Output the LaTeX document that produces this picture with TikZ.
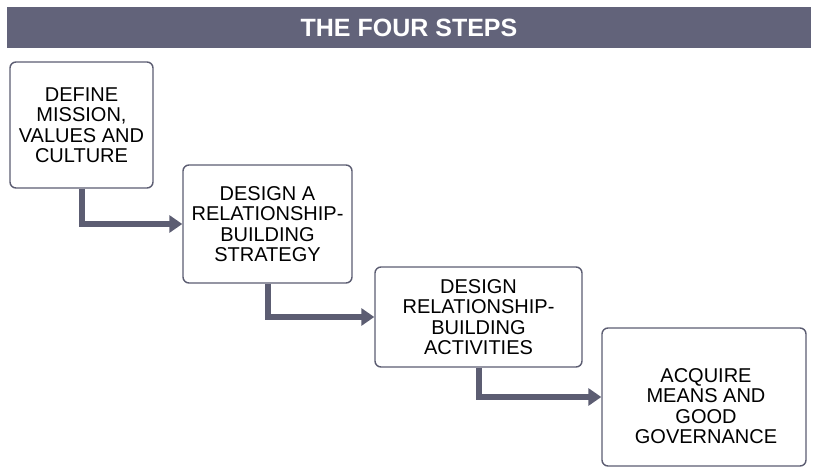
\documentclass[tikz,border=0pt]{standalone}
\usepackage{fontspec}
\setmainfont{Liberation Sans}
\usetikzlibrary{positioning}
\usetikzlibrary{arrows.meta}
\definecolor{slate}{RGB}{98,99,122}
\definecolor{linkgray}{RGB}{92,93,114}
\tikzset{
	every node/.style={align=center},
	stepbox/.style={draw=linkgray, line width=1.4pt, rounded corners=6pt, fill=white, inner sep=0pt, font=\fontsize{20}{20.5}\selectfont},
	steptext/.style={inner sep=0pt, font=\fontsize{20}{20.5}\selectfont},
	steplink/.style={draw=linkgray, line width=6pt, -{Triangle[length=13pt,width=17pt]}},
}

\begin{document}
\begin{tikzpicture}[x=1pt,y=-1pt]
			\useasboundingbox (0,0) rectangle (813,468);
			
			% header bar.....................
			\node [fill=slate, minimum width=804pt, minimum height=41pt, inner sep=0pt, text=white, font=\bfseries\fontsize{25}{25}\selectfont] (title) at (409,27.5) {THE FOUR STEPS};
			
			% step boxes......................
			\node [stepbox, minimum width=143pt, minimum height=126pt] (mission) at (81.5,125) {DEFINE\\MISSION,\\VALUES AND\\CULTURE};
			\node [stepbox, minimum width=169pt, minimum height=118pt] (strategy) at (267.5,224) {DESIGN A\\RELATIONSHIP-\\BUILDING\\STRATEGY};
			\node [stepbox, minimum width=207pt, minimum height=100pt] (activities) at (478.5,317) {DESIGN\\RELATIONSHIP-\\BUILDING\\ACTIVITIES};
			\node [stepbox, minimum width=204pt, minimum height=138pt] (means) at (704,397) {};
			\node [steptext] (meanstext) at (706,406) {ACQUIRE\\MEANS AND\\GOOD\\GOVERNANCE};
			
			% links between steps.............
			\draw [steplink] (mission.south) |- (strategy.west);
			\draw [steplink] (strategy.south) |- (activities.west);
			\draw [steplink] (activities.south) |- (means.west);
\end{tikzpicture}
\end{document}
